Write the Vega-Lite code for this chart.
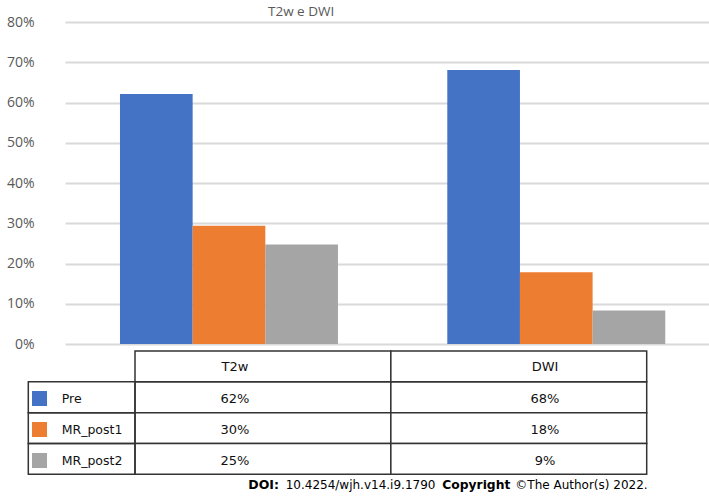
{
  "$schema": "https://vega.github.io/schema/vega-lite/v6.json",
  "width": 644,
  "height": 476,
  "autosize": {"type": "none"},
  "padding": {"left": 65, "top": 22, "right": 0, "bottom": 0},
  "background": "white",
  "config": {"view": {"stroke": null}},
  "title": {"text": "T2w e DWI", "anchor": "start", "frame": "group", "dx": 203, "dy": 9, "offset": 6, "font": "Open Sans", "fontSize": 13.5, "fontWeight": "normal", "color": "#595959"},
  "datasets": {
    "bars": [
      {"modality": "T2w", "series": "Pre", "value": 0.621, "shown": "62%"},
      {"modality": "T2w", "series": "MR_post1", "value": 0.294, "shown": "30%"},
      {"modality": "T2w", "series": "MR_post2", "value": 0.247, "shown": "25%"},
      {"modality": "DWI", "series": "Pre", "value": 0.681, "shown": "68%"},
      {"modality": "DWI", "series": "MR_post1", "value": 0.178, "shown": "18%"},
      {"modality": "DWI", "series": "MR_post2", "value": 0.083, "shown": "9%"}
    ],
    "headers": [{"modality": "T2w"}, {"modality": "DWI"}]
  },
  "resolve": {"scale": {"x": "independent", "y": "independent", "color": "independent"}},
  "layer": [
    {
      "data": {"name": "bars"},
      "mark": {"type": "bar"},
      "encoding": {
        "x": {"field": "modality", "type": "nominal", "sort": ["T2w", "DWI"],
              "scale": {"paddingInner": 0.334, "paddingOuter": 0.1508, "align": 0.557},
              "axis": null},
        "xOffset": {"field": "series", "type": "nominal", "sort": ["Pre", "MR_post1", "MR_post2"], "scale": {"paddingInner": 0, "paddingOuter": 0}},
        "y": {"field": "value", "type": "quantitative",
              "scale": {"domain": [0, 0.8], "range": [322, 0], "nice": false},
              "axis": {"values": [0, 0.1, 0.2, 0.3, 0.4, 0.5, 0.6, 0.7, 0.8], "format": ".0%", "title": null,
                       "domain": false, "ticks": false, "labelPadding": 31, "labelFont": "Open Sans", "labelFontSize": 14, "labelColor": "#595959",
                       "grid": true, "gridColor": "#d9d9d9", "gridWidth": 2}},
        "color": {"field": "series", "type": "nominal", "sort": ["Pre", "MR_post1", "MR_post2"],
                  "scale": {"domain": ["Pre", "MR_post1", "MR_post2"], "range": ["#4472C4", "#ED7D31", "#A5A5A5"]},
                  "legend": {"orient": "none", "legendX": -33, "legendY": 369, "title": null, "symbolType": "square", "symbolSize": 225,
                             "symbolStrokeWidth": 0, "symbolOpacity": 1, "labelOffset": 14.7, "rowPadding": 16, "padding": 0,
                             "labelFont": "DejaVu Sans", "labelFontSize": 12.5, "labelColor": "#111111"}}
      }
    },
    {
      "layer": [
        {
          "data": {"name": "bars"},
          "mark": {"type": "rect", "fill": "white", "stroke": "#333333", "strokeWidth": 1.5},
          "encoding": {
            "x": {"field": "modality", "type": "nominal", "sort": ["T2w", "DWI"], "scale": {"domain": ["T2w", "DWI"], "range": [70, 581.7], "paddingInner": 0, "paddingOuter": 0}, "axis": null},
            "y": {"field": "series", "type": "nominal", "scale": {"domain": ["header", "Pre", "MR_post1", "MR_post2"], "range": [329, 452.3], "paddingInner": 0, "paddingOuter": 0}, "axis": null}
          }
        },
        {
          "data": {"name": "headers"},
          "mark": {"type": "rect", "fill": "white", "stroke": "#333333", "strokeWidth": 1.5},
          "encoding": {
            "x": {"field": "modality", "type": "nominal"},
            "y": {"datum": "header", "type": "nominal"}
          }
        },
        {
          "data": {"name": "headers"},
          "transform": [{"filter": "datum.modality === 'T2w'"}],
          "mark": {"type": "text", "text": "DOI:", "align": "left", "baseline": "middle", "dx": 113.3, "dy": 10.7, "font": "DejaVu Sans", "fontSize": 12.5, "fontWeight": "bold", "color": "#000000"},
          "encoding": {"x": {"datum": "T2w", "type": "nominal", "bandPosition": 0}, "y": {"datum": "MR_post2", "type": "nominal", "bandPosition": 1}}
        },
        {
          "data": {"name": "headers"},
          "transform": [{"filter": "datum.modality === 'T2w'"}],
          "mark": {"type": "text", "text": "10.4254/wjh.v14.i9.1790", "align": "left", "baseline": "middle", "dx": 150.7, "dy": 10.7, "font": "DejaVu Sans", "fontSize": 12, "color": "#000000"},
          "encoding": {"x": {"datum": "T2w", "type": "nominal", "bandPosition": 0}, "y": {"datum": "MR_post2", "type": "nominal", "bandPosition": 1}}
        },
        {
          "data": {"name": "headers"},
          "transform": [{"filter": "datum.modality === 'T2w'"}],
          "mark": {"type": "text", "text": "Copyright", "align": "left", "baseline": "middle", "dx": 307.3, "dy": 10.7, "font": "DejaVu Sans", "fontSize": 12.3, "fontWeight": "bold", "color": "#000000"},
          "encoding": {"x": {"datum": "T2w", "type": "nominal", "bandPosition": 0}, "y": {"datum": "MR_post2", "type": "nominal", "bandPosition": 1}}
        },
        {
          "data": {"name": "headers"},
          "transform": [{"filter": "datum.modality === 'T2w'"}],
          "mark": {"type": "text", "text": "©The Author(s) 2022.", "align": "left", "baseline": "middle", "dx": 380.3, "dy": 10.7, "font": "DejaVu Sans", "fontSize": 12, "color": "#000000"},
          "encoding": {"x": {"datum": "T2w", "type": "nominal", "bandPosition": 0}, "y": {"datum": "MR_post2", "type": "nominal", "bandPosition": 1}}
        }
      ]
    },
    {
      "data": {"name": "bars"},
      "transform": [{"filter": "datum.modality === 'T2w'"}],
      "mark": {"type": "rect", "fill": "transparent", "stroke": "#333333", "strokeWidth": 1.5},
      "encoding": {
        "x": {"datum": "legend", "type": "nominal", "scale": {"domain": ["legend"], "range": [-36.7, 70], "paddingInner": 0, "paddingOuter": 0}, "axis": null},
        "y": {"field": "series", "type": "nominal", "scale": {"domain": ["header", "Pre", "MR_post1", "MR_post2"], "range": [329, 452.3], "paddingInner": 0, "paddingOuter": 0}, "axis": null}
      }
    },
    {
      "layer": [
        {
          "data": {"name": "bars"},
          "mark": {"type": "text", "baseline": "middle", "dy": 2, "font": "DejaVu Sans", "fontSize": 13, "color": "#111111"},
          "encoding": {
            "x": {"field": "modality", "type": "nominal", "scale": {"domain": ["T2w", "DWI"], "range": [15, 635], "paddingInner": 0, "paddingOuter": 0}, "axis": null},
            "y": {"field": "series", "type": "nominal", "scale": {"domain": ["header", "Pre", "MR_post1", "MR_post2"], "range": [329, 452.3], "paddingInner": 0, "paddingOuter": 0}, "axis": null},
            "text": {"field": "shown", "type": "nominal"}
          }
        },
        {
          "data": {"name": "headers"},
          "mark": {"type": "text", "baseline": "middle", "dy": 1, "font": "DejaVu Sans", "fontSize": 13, "color": "#111111"},
          "encoding": {
            "x": {"field": "modality", "type": "nominal"},
            "y": {"datum": "header", "type": "nominal"},
            "text": {"field": "modality", "type": "nominal"}
          }
        }
      ]
    }
  ]
}
